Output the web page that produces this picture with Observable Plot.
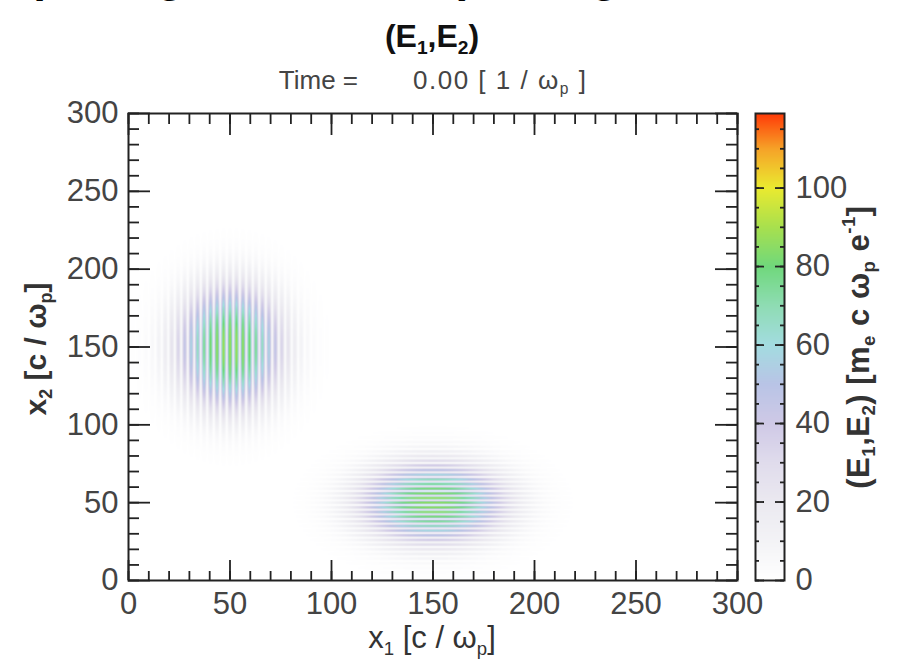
<!DOCTYPE html>
<html>
<head>
<meta charset="utf-8">
<script src="https://cdn.jsdelivr.net/npm/d3@7"></script>
<script src="https://cdn.jsdelivr.net/npm/@observablehq/plot@0.6"></script>
<style>
  body { margin: 0; background: #fff; }
  #wrap { position: relative; width: 906px; height: 661px; overflow: hidden; background: #fff;
          font-family: "Liberation Sans", Arial, Helvetica, sans-serif; }
  .t { position: absolute; white-space: pre; line-height: 1; text-align: center; }
  .rot { position: absolute; white-space: pre; line-height: 1;
         transform: translate(-50%, -50%) rotate(-90deg); }
  sub { font-size: 0.6em; vertical-align: -0.35em; line-height: 0; }
  sup { font-size: 0.6em; vertical-align: 0.7em; line-height: 0; }
  .svgbox { position: absolute; top: 100px; }
</style>
</head>
<body>
<div id="wrap">
  <div class="t" style="left:-200px;width:1264px;top:-48px;font-size:46px;font-weight:bold;color:#000;">Superposing two Lasers (Orthogonal Polarizing)</div>
  <div class="t" style="left:232px;width:400px;top:20px;font-size:32px;font-weight:bold;color:#111;">(E<sub>1</sub>,E<sub>2</sub>)</div>
  <div class="t" style="left:158px;width:200px;top:67px;font-size:26px;color:#444;text-align:right;">Time =</div>
  <div class="t" style="left:413px;width:300px;top:67px;font-size:26px;color:#444;text-align:left;letter-spacing:1.5px;">0.00 [ 1 / ω<sub>p</sub> ]</div>
  <div class="t" style="left:232px;width:400px;top:622px;font-size:31px;color:#333;">x<sub>1</sub> [c / ω<sub>p</sub>]</div>
  <div class="rot" style="left:36px;top:349px;font-size:30px;font-weight:bold;color:#333;">x<sub>2</sub> [c / ω<sub>p</sub>]</div>
  <div class="rot" style="left:858px;top:347px;font-size:31px;font-weight:bold;color:#333;letter-spacing:0.5px;">(E<sub>1</sub>,E<sub>2</sub>) [m<sub>e</sub> c ω<sub>p</sub> e<sup>-1</sup>]</div>
  <div id="main" class="svgbox" style="left:0px;"></div>
  <div id="cbar" class="svgbox" style="left:740px;"></div>
</div>
<script>
// ---- data ----
// wave packets (centre, peak field, envelope half-widths, stripe spacing, stripe direction)
const packetCentreX1 = [50, 150];
const packetCentreX2 = [150, 50];
const packetPeak = [90, 90];
const packetHalfAcross = [26, 26];      // across the stripes
const packetHalfAlong = [40, 36];       // along the stripes
const packetEdgeSharpness = [2.6, 2.6]; // envelope steepness
const packetStripeSpacing = [3.2, 3.0]; // distance between bright stripes
const packetWaveAxis = ["x1", "x2"];    // axis along which the field oscillates

// tick values
const xTickLabels = [0, 50, 100, 150, 200, 250, 300];
const yTickLabels = [0, 50, 100, 150, 200, 250, 300];
const xMinorTicks = [0,10,20,30,40,50,60,70,80,90,100,110,120,130,140,150,160,170,180,190,200,210,220,230,240,250,260,270,280,290,300];
const yMinorTicks = xMinorTicks;
const cbMax = 119;
const cbTickLabels = [0, 20, 40, 60, 80, 100];
const cbMinorTicks = [0,5,10,15,20,25,30,35,40,45,50,55,60,65,70,75,80,85,90,95,100,105,110,115];

// colour table
const colorStops = [0, 10, 20, 30, 40, 50, 60, 70, 80, 90, 100, 110, 119];
const colorRange = ["#ffffff", "#f3f3f6", "#ebe9f0", "#e0dcec", "#cfc9e6", "#b9c4e6", "#a3dce0",
                    "#8fdcb4", "#70d87c", "#a8e04e", "#eaea30", "#f6a228", "#ff3a08"];

// ---- field magnitude sampled by the raster ----
function field(x1, x2) {
  let s = 0;
  for (let i = 0; i < packetPeak.length; i++) {
    const d1 = x1 - packetCentreX1[i], d2 = x2 - packetCentreX2[i];
    const a = packetWaveAxis[i] === "x1" ? d1 : d2;  // across stripes
    const b = packetWaveAxis[i] === "x1" ? d2 : d1;  // along stripes
    const r = Math.hypot(a / packetHalfAcross[i], b / packetHalfAlong[i]);
    const env = Math.exp(-Math.pow(r, packetEdgeSharpness[i]));
    const e = packetPeak[i] * env * Math.cos(Math.PI * a / packetStripeSpacing[i]);
    s += e * e;
  }
  return Math.sqrt(s);
}

const font = "Liberation Sans, Arial, Helvetica, sans-serif";
const ink = "#222";
const colorScale = {type: "linear", domain: colorStops, range: colorRange, clamp: true};

const frameW = 609, frameH = 467;
const main = Plot.plot({
  width: 780, height: 561,
  marginLeft: 128, marginRight: 43, marginTop: 13, marginBottom: 81,
  style: {background: "transparent", overflow: "visible", fontFamily: font},
  x: {domain: [0, 300]},
  y: {domain: [0, 300]},
  color: colorScale,
  marks: [
    Plot.raster({x1: 0, x2: 300, y1: 0, y2: 300, fill: field, pixelSize: 1}),
    // inward ticks on all four sides
    Plot.tickX(xMinorTicks, {x: d => d, insetTop: frameH - 9, stroke: ink, strokeWidth: 1.8}),
    Plot.tickX(xMinorTicks, {x: d => d, insetBottom: frameH - 11, stroke: ink, strokeWidth: 1.8}),
    Plot.tickX(xTickLabels, {x: d => d, insetTop: frameH - 20, stroke: ink, strokeWidth: 1.8}),
    Plot.tickX(xTickLabels, {x: d => d, insetBottom: frameH - 22, stroke: ink, strokeWidth: 1.8}),
    Plot.tickY(yMinorTicks, {y: d => d, insetRight: frameW - 11, stroke: ink, strokeWidth: 1.8}),
    Plot.tickY(yMinorTicks, {y: d => d, insetLeft: frameW - 11, stroke: ink, strokeWidth: 1.8}),
    Plot.tickY(yTickLabels, {y: d => d, insetRight: frameW - 22, stroke: ink, strokeWidth: 1.8}),
    Plot.tickY(yTickLabels, {y: d => d, insetLeft: frameW - 22, stroke: ink, strokeWidth: 1.8}),
    Plot.frame({stroke: ink, strokeWidth: 2}),
    Plot.axisX(xTickLabels, {anchor: "bottom", tickSize: 0, tickPadding: 11, fontSize: 31, fill: "#444", label: null, tickFormat: d => String(d)}),
    Plot.axisY(yTickLabels, {anchor: "left", tickSize: 0, tickPadding: 10, fontSize: 31, fill: "#444", label: null, tickFormat: d => String(d)})
  ]
});
document.getElementById("main").appendChild(main);

const cbW = 29;
const cbar = Plot.plot({
  width: 166, height: 561,
  marginLeft: 15, marginRight: 122, marginTop: 13, marginBottom: 81,
  style: {background: "transparent", overflow: "visible", fontFamily: font},
  x: {domain: [0, 1], axis: null},
  y: {domain: [0, cbMax]},
  color: colorScale,
  marks: [
    Plot.raster({x1: 0, x2: 1, y1: 0, y2: cbMax, fill: (x, y) => y, pixelSize: 1}),
    Plot.tickY(cbMinorTicks, {y: d => d, insetRight: cbW - 4, stroke: ink, strokeWidth: 1.8}),
    Plot.tickY(cbMinorTicks, {y: d => d, insetLeft: cbW - 4, stroke: ink, strokeWidth: 1.8}),
    Plot.tickY(cbTickLabels, {y: d => d, insetRight: cbW - 9, stroke: ink, strokeWidth: 1.8}),
    Plot.tickY(cbTickLabels, {y: d => d, insetLeft: cbW - 9, stroke: ink, strokeWidth: 1.8}),
    Plot.frame({stroke: ink, strokeWidth: 2}),
    Plot.axisY(cbTickLabels, {anchor: "right", tickSize: 0, tickPadding: 11, fontSize: 31, fill: "#444", label: null, tickFormat: d => String(d)})
  ]
});
document.getElementById("cbar").appendChild(cbar);
</script>
</body>
</html>
